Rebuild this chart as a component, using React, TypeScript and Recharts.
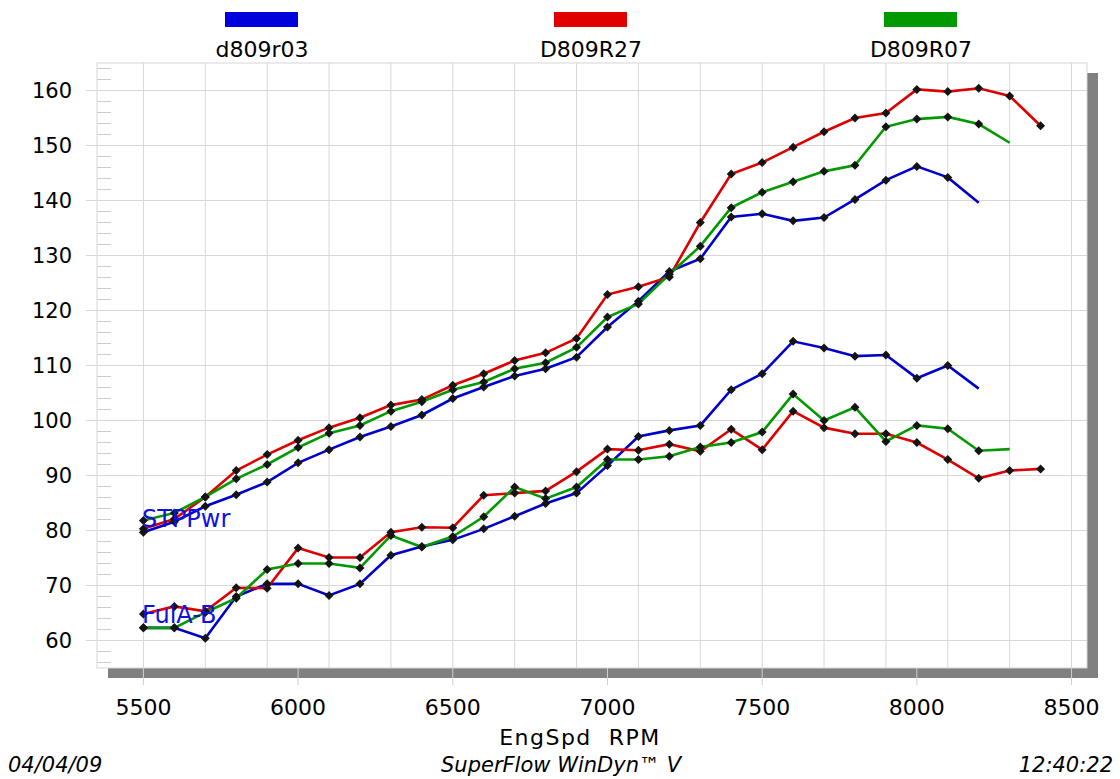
import { LineChart, Line, XAxis, YAxis, CartesianGrid, ReferenceArea, ReferenceLine } from 'recharts';

const FONT = '"DejaVu Sans", Verdana, sans-serif';

const rpm = [
  5500, 5600, 5700, 5800, 5900, 6000, 6100, 6200, 6300, 6400, 6500, 6600, 6700, 6800, 6900,
  7000, 7100, 7200, 7300, 7400, 7500, 7600, 7700, 7800, 7900, 8000, 8100, 8200, 8300, 8400,
];

// STPPwr (upper group)
const pwrR03 = [
  79.7, 81.6, 84.4, 86.5, 88.8, 92.3, 94.7, 97.0, 98.9, 101.0, 104.0, 106.1, 108.1, 109.4, 111.5,
  117.0, 121.7, 127.1, 129.4, 137.0, 137.6, 136.3, 136.9, 140.2, 143.7, 146.2, 144.2, 139.6,
];
const pwrR27 = [
  80.3, 82.1, 86.1, 90.9, 93.8, 96.4, 98.7, 100.5, 102.8, 103.8, 106.4, 108.5, 110.9, 112.3, 114.9,
  122.9, 124.3, 126.1, 136.0, 144.8, 146.9, 149.7, 152.5, 155.0, 155.9, 160.2, 159.8, 160.4, 159.0, 153.6,
];
const pwrR07 = [
  81.8, 83.2, 86.1, 89.4, 92.0, 95.1, 97.7, 99.1, 101.7, 103.4, 105.6, 107.0, 109.4, 110.5, 113.3,
  118.8, 121.2, 126.6, 131.7, 138.7, 141.5, 143.4, 145.3, 146.4, 153.4, 154.8, 155.2, 153.9, 150.5,
];

// FulA-B (lower group)
const fuelR03 = [
  62.3, 62.3, 60.4, 68.0, 70.3, 70.3, 68.2, 70.3, 75.5, 77.1, 78.3, 80.3, 82.6, 84.9, 86.8,
  91.8, 97.1, 98.2, 99.1, 105.6, 108.5, 114.4, 113.2, 111.7, 111.9, 107.7, 110.0, 105.8,
];
const fuelR27 = [
  64.8, 66.2, 65.3, 69.6, 69.5, 76.8, 75.1, 75.1, 79.7, 80.6, 80.5, 86.4, 86.8, 87.2, 90.7,
  94.8, 94.6, 95.7, 94.4, 98.4, 94.7, 101.7, 98.7, 97.6, 97.6, 96.0, 92.9, 89.5, 90.9, 91.2,
];
const fuelR07 = [
  62.3, 62.3, 65.1, 67.7, 72.9, 74.0, 74.0, 73.2, 79.1, 77.0, 78.9, 82.5, 87.9, 85.8, 87.9,
  92.9, 92.9, 93.5, 95.2, 96.0, 97.9, 104.8, 100.0, 102.4, 96.2, 99.1, 98.5, 94.5, 94.8,
];

const xTicks = [5500, 6000, 6500, 7000, 7500, 8000, 8500];
const xGrid = [
  5400, 5500, 5600, 5700, 5800, 5900, 6000, 6100, 6200, 6300, 6400, 6500, 6600, 6700, 6800, 6900,
  7000, 7100, 7200, 7300, 7400, 7500, 7600, 7700, 7800, 7900, 8000, 8100, 8200, 8300, 8400, 8500,
];
const yTicks = [60, 70, 80, 90, 100, 110, 120, 130, 140, 150, 160];
const yMinor = [
  56, 58, 62, 64, 66, 68, 72, 74, 76, 78, 82, 84, 86, 88, 92, 94, 96, 98, 102, 104, 106, 108,
  112, 114, 116, 118, 122, 124, 126, 128, 132, 134, 136, 138, 142, 144, 146, 148, 152, 154, 156, 158,
  162, 164,
];

const runs = [
  { name: 'd809r03', color: '#0000cc', swatch: '#0000dd', pwr: pwrR03, fuel: fuelR03, markLast: false, cx: 262 },
  { name: 'D809R27', color: '#dd0000', swatch: '#e00000', pwr: pwrR27, fuel: fuelR27, markLast: true, cx: 591 },
  { name: 'D809R07', color: '#009900', swatch: '#009900', pwr: pwrR07, fuel: fuelR07, markLast: false, cx: 921 },
];

const data = rpm.map((r, i) => {
  const row: Record<string, number | null> = { rpm: r };
  runs.forEach((run, k) => {
    row[`pwr${k}`] = run.pwr[i] ?? null;
    row[`fuel${k}`] = run.fuel[i] ?? null;
  });
  return row;
});

function diamondDot(markLast: boolean, count: number) {
  return (props: any) => {
    const { cx, cy, index } = props;
    if (cx == null || cy == null || (!markLast && index === count - 1)) {
      return <g key={`d-${index}`} />;
    }
    return (
      <path
        key={`d-${index}`}
        d={`M${cx},${cy - 4.5}L${cx + 4.5},${cy}L${cx},${cy + 4.5}L${cx - 4.5},${cy}Z`}
        fill="#141414"
      />
    );
  };
}

// white plot with the grey drop shadow along bottom and right
const PlotFrame = (props: any) => {
  const { x, y, width, height } = props;
  return (
    <g>
      <rect x={x + 11} y={y + height} width={width} height={10} fill="#808080" />
      <rect x={x + width} y={y + 10} width={11} height={height} fill="#808080" />
      <rect x={x} y={y} width={width} height={height} fill="none" stroke="#d6d6d6" />
    </g>
  );
};

const tickStyle = { fill: '#000', fontSize: 22, fontFamily: FONT };

export default function App() {
  return (
    <div
      style={{
        position: 'absolute',
        left: 0,
        top: 0,
        width: 1120,
        height: 779,
        background: '#fff',
        fontFamily: FONT,
        color: '#000',
      }}
    >
      {runs.map((run) => (
        <div key={run.name}>
          <div
            style={{
              position: 'absolute',
              left: run.cx - 37,
              top: 12,
              width: 73,
              height: 15,
              background: run.swatch,
            }}
          />
          <div
            style={{
              position: 'absolute',
              left: run.cx - 100,
              top: 39,
              width: 200,
              textAlign: 'center',
              fontSize: 22,
              lineHeight: '22px',
            }}
          >
            {run.name}
          </div>
        </div>
      ))}

      <LineChart
        width={1120}
        height={779}
        data={data}
        margin={{ top: 63, right: 33, left: 0, bottom: 0 }}
        style={{ position: 'absolute', left: 0, top: 0 }}
      >
        <CartesianGrid verticalValues={xGrid} horizontalValues={yTicks} stroke="#d8d8d8" strokeWidth={1} />
        <ReferenceArea x1={5350} x2={8550} y1={55} y2={165} shape={<PlotFrame />} />
        {/* minor ticks in the strip along the left edge */}
        {yMinor.map((v) => (
          <ReferenceLine
            key={`minor-${v}`}
            segment={[
              { x: 5350, y: v },
              { x: 5395, y: v },
            ]}
            stroke="#cccccc"
            strokeWidth={1}
          />
        ))}
        <XAxis
          dataKey="rpm"
          type="number"
          domain={[5350, 8550]}
          ticks={xTicks}
          allowDataOverflow
          height={111}
          tickSize={17}
          tickMargin={14}
          axisLine={false}
          tickLine={{ stroke: '#cfcfcf' }}
          tick={tickStyle}
          label={{
            value: 'EngSpd\u00a0\u00a0RPM',
            position: 'insideBottom',
            offset: 34,
            dx: -12,
            fill: '#000',
            fontSize: 22,
            letterSpacing: 1.5,
            fontFamily: FONT,
          }}
        />
        <YAxis
          type="number"
          domain={[55, 165]}
          ticks={yTicks}
          allowDataOverflow
          width={97}
          tickSize={11}
          tickMargin={14}
          axisLine={false}
          tickLine={{ stroke: '#d8d8d8' }}
          tick={{ ...tickStyle, fontSize: 21 }}
        />
        {runs.map((run, k) => (
          <Line
            key={`pwr${k}`}
            dataKey={`pwr${k}`}
            stroke={run.color}
            strokeWidth={2.6}
            dot={diamondDot(run.markLast, run.pwr.length)}
            activeDot={false}
            isAnimationActive={false}
          />
        ))}
        {runs.map((run, k) => (
          <Line
            key={`fuel${k}`}
            dataKey={`fuel${k}`}
            stroke={run.color}
            strokeWidth={2.6}
            dot={diamondDot(run.markLast, run.fuel.length)}
            activeDot={false}
            isAnimationActive={false}
          />
        ))}
      </LineChart>

      <div style={{ position: 'absolute', left: 142, top: 507, fontSize: 24, lineHeight: '24px', color: '#1010e0' }}>
        STPPwr
      </div>
      <div style={{ position: 'absolute', left: 142, top: 603, fontSize: 24, lineHeight: '24px', color: '#1010e0' }}>
        FulA-B
      </div>

      <div style={{ position: 'absolute', left: 8, top: 755, fontSize: 21, lineHeight: '21px', fontStyle: 'italic' }}>
        04/04/09
      </div>
      <div
        style={{
          position: 'absolute',
          left: 361,
          top: 755,
          width: 400,
          textAlign: 'center',
          fontSize: 21,
          lineHeight: '21px',
          fontStyle: 'italic',
        }}
      >
        SuperFlow WinDyn™ V
      </div>
      <div style={{ position: 'absolute', right: 7, top: 755, fontSize: 21, lineHeight: '21px', fontStyle: 'italic' }}>
        12:40:22
      </div>
    </div>
  );
}
